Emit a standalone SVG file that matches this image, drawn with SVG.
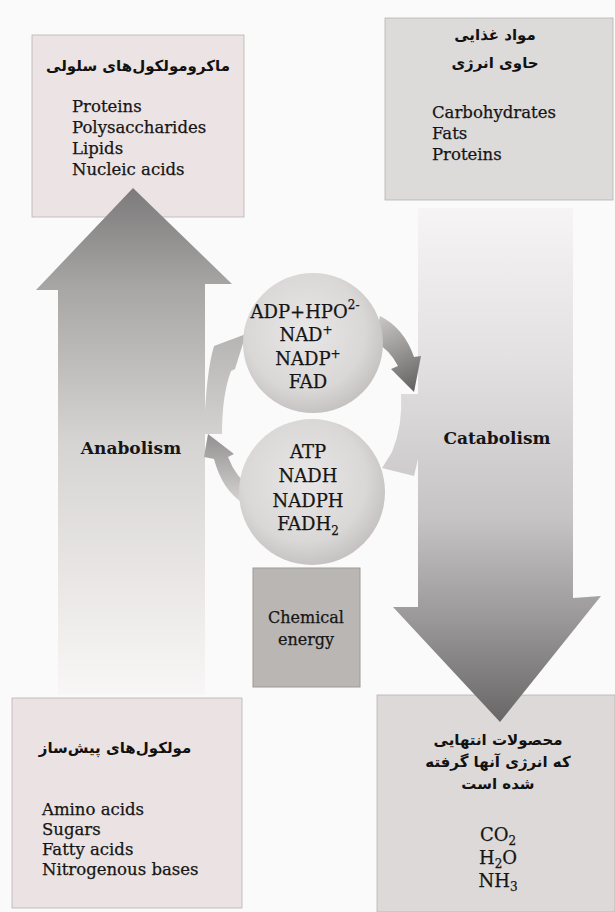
<svg xmlns="http://www.w3.org/2000/svg" width="615" height="912" viewBox="0 0 615 912">
<defs>
<linearGradient id="gAna" x1="0" y1="188" x2="0" y2="695" gradientUnits="userSpaceOnUse">
<stop offset="0" stop-color="#7c7a7a"/>
<stop offset="0.2" stop-color="#a9a6a6"/>
<stop offset="0.5" stop-color="#d6d3d3"/>
<stop offset="0.8" stop-color="#ece8e8"/>
<stop offset="1" stop-color="#f8f6f6"/>
</linearGradient>
<linearGradient id="gCat" x1="0" y1="208" x2="0" y2="722" gradientUnits="userSpaceOnUse">
<stop offset="0" stop-color="#f6f4f4"/>
<stop offset="0.3" stop-color="#e2e0e0"/>
<stop offset="0.6" stop-color="#c6c4c4"/>
<stop offset="0.8" stop-color="#9a9898"/>
<stop offset="1" stop-color="#686666"/>
</linearGradient>
<radialGradient id="gCirc" cx="0.45" cy="0.42" r="0.6">
<stop offset="0" stop-color="#e8e6e6"/>
<stop offset="0.7" stop-color="#dad7d7"/>
<stop offset="1" stop-color="#c4c0c0"/>
</radialGradient>
<linearGradient id="gDark" x1="378" y1="320" x2="414" y2="392" gradientUnits="userSpaceOnUse">
<stop offset="0" stop-color="#c8c4c4"/>
<stop offset="1" stop-color="#626060"/>
</linearGradient>
<linearGradient id="gLeft" x1="0" y1="430" x2="0" y2="500" gradientUnits="userSpaceOnUse">
<stop offset="0" stop-color="#8e8c8c"/>
<stop offset="1" stop-color="#d4d0d0"/>
</linearGradient>
<style>
.box{stroke:#b8b2b2;stroke-width:0.8}
.fa{font-family:"DejaVu Sans",sans-serif;font-weight:bold;font-size:15px;fill:#111;text-anchor:middle}
.en{font-family:"DejaVu Serif",serif;font-size:16.5px;fill:#151515;stroke:#151515;stroke-width:0.25}
.ct{font-family:"DejaVu Serif",serif;font-size:18px;fill:#151515;stroke:#151515;stroke-width:0.25;text-anchor:middle}
.lb{font-family:"DejaVu Serif",serif;font-weight:bold;font-size:17px;fill:#151515;text-anchor:middle}
.sub{font-size:12px}
</style>
</defs>
<rect width="615" height="912" fill="#fbfafa"/>

<g id="macromolecules">
<rect class="box" x="32" y="35" width="212" height="182" fill="#ece3e4"/>
<text class="fa" x="138" y="71">ماکرومولکول‌های سلولی</text>
<text class="en" x="72" y="112">Proteins</text>
<text class="en" x="72" y="133">Polysaccharides</text>
<text class="en" x="72" y="154">Lipids</text>
<text class="en" x="72" y="175">Nucleic acids</text>
</g>

<g id="nutrients">
<rect class="box" x="385" y="18" width="228" height="182" fill="#dddada"/>
<text class="fa" x="495" y="40">مواد غذایی</text>
<text class="fa" x="495" y="68">حاوی انرژی</text>
<text class="en" x="432" y="118">Carbohydrates</text>
<text class="en" x="432" y="139">Fats</text>
<text class="en" x="432" y="160">Proteins</text>
</g>

<g id="precursors">
<rect class="box" x="12" y="698" width="230" height="210" fill="#ebe3e3"/>
<text class="fa" x="115" y="753">مولکول‌های پیش‌ساز</text>
<text class="en" x="42" y="815">Amino acids</text>
<text class="en" x="42" y="835">Sugars</text>
<text class="en" x="42" y="855">Fatty acids</text>
<text class="en" x="42" y="875">Nitrogenous bases</text>
</g>

<g id="endproducts">
<rect class="box" x="377" y="695" width="238" height="217" fill="#dcd9d8"/>
<text class="fa" x="498" y="745">محصولات انتهایی</text>
<text class="fa" x="498" y="767">که انرژی آنها گرفته</text>
<text class="fa" x="498" y="789">شده است</text>
<text class="ct" x="498" y="841">CO<tspan class="sub" dy="4">2</tspan></text>
<text class="ct" x="498" y="864">H<tspan class="sub" dy="4">2</tspan><tspan dy="-4">O</tspan></text>
<text class="ct" x="498" y="887">NH<tspan class="sub" dy="4">3</tspan></text>
</g>

<g id="anabolism">
<polygon points="133,188 232,284 205,284 205,695 58,695 58,290 36,290" fill="url(#gAna)"/>
<text class="lb" x="131" y="454">Anabolism</text>
</g>

<g id="catabolism">
<polygon points="418,208 573,208 573,598 601,596 500,722 393,607 418,607" fill="url(#gCat)"/>
<text class="lb" x="497" y="444">Catabolism</text>
</g>

<g id="connectors">
<path d="M204,434 Q206,372 214,346 L246,334 L235,369 L231,371 Q222,395 222,434 Z" fill="url(#gAna)"/>
<path d="M208,434 L234,454 L228,457 Q236,478 252,488 L244,504 Q222,490 214,459 L204,457 Z" fill="url(#gLeft)"/>
<path d="M380,316 Q404,328 414,357 L421,356 L414,392 L391,369 L398,366 Q390,350 374,341 Z" fill="url(#gDark)"/>
<path d="M401,394 L419,394 L419,455 L414,476 L382,468 L392,452 Q403,425 401,394 Z" fill="url(#gCat)"/>
</g>

<g id="oxidized">
<circle cx="313" cy="343" r="70" fill="url(#gCirc)"/>
<text class="ct" x="305" y="318">ADP+HPO<tspan class="sub" dy="-9">2-</tspan></text>
<text class="ct" x="306" y="341">NAD<tspan class="sub" dy="-7">+</tspan></text>
<text class="ct" x="308" y="365">NADP<tspan class="sub" dy="-7">+</tspan></text>
<text class="ct" x="308" y="388">FAD</text>
</g>

<g id="reduced">
<circle cx="312" cy="492" r="73" fill="url(#gCirc)"/>
<text class="ct" x="308" y="458">ATP</text>
<text class="ct" x="308" y="482">NADH</text>
<text class="ct" x="308" y="507">NADPH</text>
<text class="ct" x="308" y="530">FADH<tspan class="sub" dy="5">2</tspan></text>
</g>

<g id="chemical-energy">
<rect x="253" y="568" width="107" height="119" fill="#bab6b4" stroke="#9e9a98" stroke-width="1"/>
<text class="ct" x="306" y="623" style="font-size:16px">Chemical</text>
<text class="ct" x="306" y="645" style="font-size:16px">energy</text>
</g>
</svg>
